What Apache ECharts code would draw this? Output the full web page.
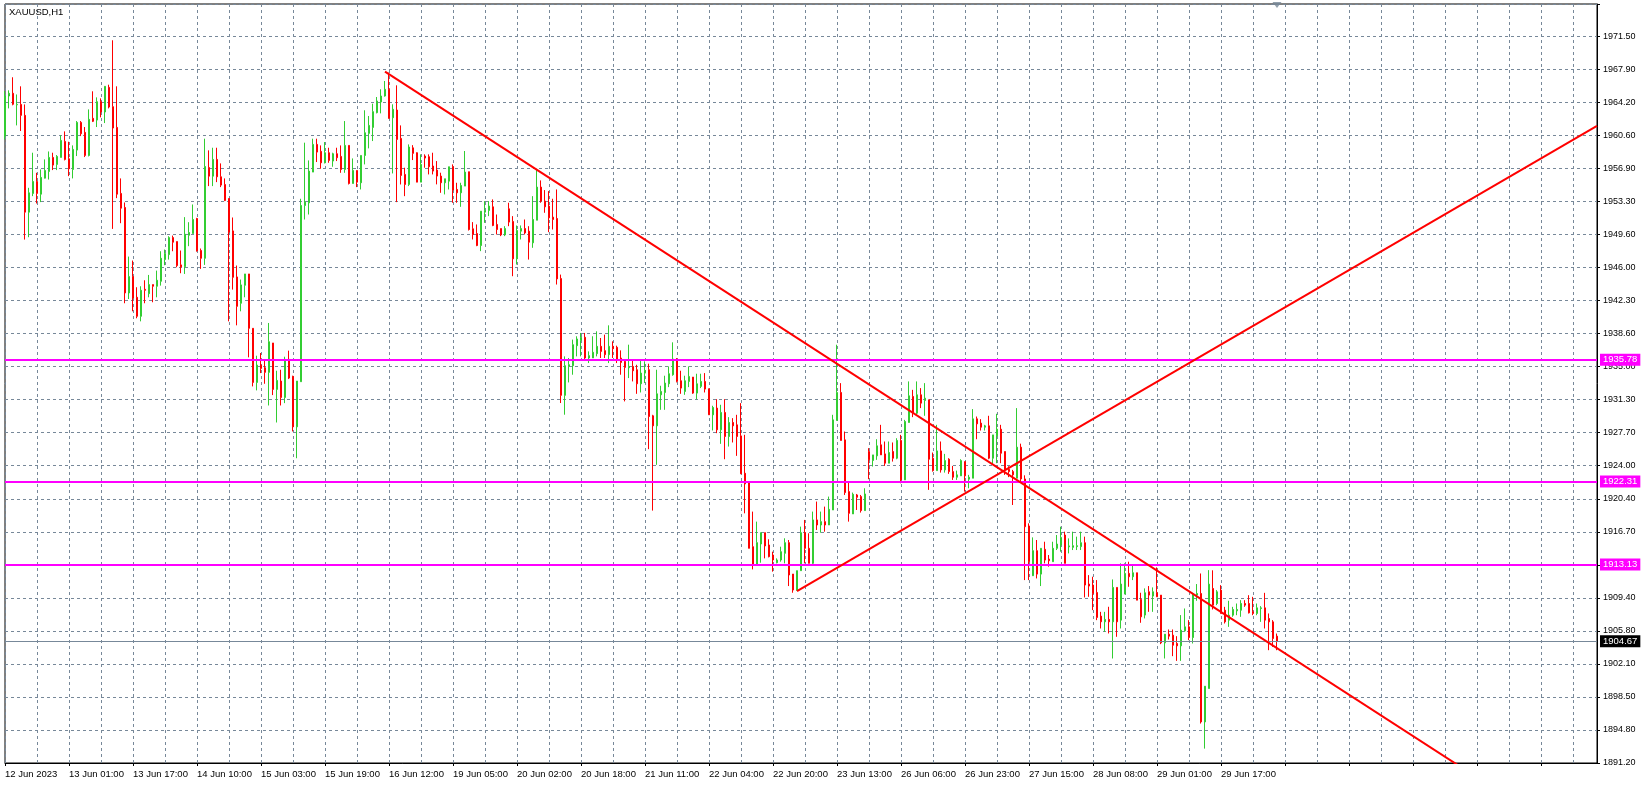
<!DOCTYPE html>
<html><head><meta charset="utf-8">
<script src="https://cdn.jsdelivr.net/npm/echarts@6/dist/echarts.min.js"></script>
<style>html,body{margin:0;padding:0;background:#fff;}#chart{width:1645px;height:788px;}</style>
</head><body><div id="chart"></div>
<script>
// ---- data (XAUUSD H1, one entry per bar, left to right) ----
const open = [
1960.50,1964.93,1965.23,1963.95,1964.00,1962.79,1952.09,1954.16,1955.48,1954.08,
1955.85,1956.59,1958.14,1957.37,1958.14,1959.91,1957.99,1956.81,1958.95,1962.01,
1960.91,1958.36,1962.46,1962.27,1964.30,1963.16,1965.89,1963.75,1961.46,1954.16,
1952.61,1943.16,1944.97,1942.68,1940.58,1943.56,1943.08,1944.08,1943.90,1944.45,
1946.85,1947.40,1949.28,1948.84,1946.26,1946.07,1949.54,1949.73,1951.39,1947.85,
1946.99,1957.03,1956.07,1957.92,1956.00,1955.15,1953.60,1950.02,1944.93,1942.02,
1944.01,1945.26,1939.25,1933.27,1935.19,1934.89,1934.38,1937.63,1932.50,1933.42,
1931.61,1935.82,1933.94,1928.36,1933.35,1952.83,1953.12,1956.52,1959.58,1958.81,
1957.55,1958.66,1957.74,1958.55,1958.25,1956.81,1959.47,1955.26,1956.70,1955.34,
1958.36,1960.80,1961.46,1963.09,1964.27,1964.93,1965.67,1962.53,1963.38,1960.24,
1956.26,1955.15,1959.20,1958.66,1955.41,1958.29,1958.22,1957.19,1956.74,1956.08,
1955.34,1955.52,1957.11,1954.60,1954.23,1954.97,1956.56,1950.25,1949.73,1948.40,
1952.09,1952.28,1952.68,1950.73,1950.28,1949.58,1952.46,1951.06,1946.93,1949.99,
1950.28,1949.99,1948.70,1951.20,1954.86,1953.31,1952.76,1951.54,1951.39,1944.75,
1931.84,1935.05,1935.12,1937.33,1937.92,1938.26,1935.97,1935.97,1936.45,1937.26,
1936.78,1936.34,1937.26,1937.15,1935.96,1935.59,1934.89,1935.04,1934.67,1933.12,
1934.30,1934.67,1929.58,1928.47,1931.90,1932.16,1933.12,1934.12,1935.85,1933.45,
1932.27,1933.38,1933.86,1932.09,1932.83,1933.38,1932.57,1929.69,1930.43,1928.03,
1929.95,1927.29,1928.84,1928.58,1927.36,1923.23,1922.31,1915.11,1913.19,1915.41,
1916.66,1915.30,1914.19,1913.34,1913.64,1914.38,1915.56,1912.09,1910.32,1912.46,
1916.66,1914.93,1913.27,1918.07,1917.51,1917.88,1917.51,1919.17,1929.06,1932.16,
1926.92,1921.20,1918.73,1920.83,1920.65,1919.10,1925.63,1924.64,1925.15,1926.37,
1925.37,1924.34,1925.63,1924.89,1926.85,1922.49,1928.84,1931.72,1929.87,1931.90,
1931.27,1931.35,1924.89,1923.52,1925.70,1923.60,1924.78,1923.41,1922.79,1922.94,
1924.52,1922.57,1922.68,1929.24,1928.77,1928.32,1928.47,1924.89,1927.36,1928.10,
1925.63,1923.67,1923.41,1922.68,1926.11,1922.60,1917.40,1911.90,1914.67,1912.08,
1914.82,1913.74,1913.45,1914.93,1915.30,1916.40,1915.10,1915.04,1915.12,1915.12,
1915.55,1910.98,1910.87,1910.05,1907.44,1906.81,1907.07,1906.81,1910.61,1906.99,
1909.87,1912.16,1911.79,1912.23,1909.28,1907.55,1910.13,1909.65,1910.02,1909.76,
1904.48,1905.44,1905.33,1904.41,1904.15,1905.81,1906.25,1905.07,1909.76,1909.94,
1895.74,1899.43,1910.49,1908.83,1910.31,1908.09,1906.99,1907.54,1908.02,1908.09,
1908.83,1908.83,1907.91,1907.73,1908.28,1908.35,1907.17,1906.80,1905.22
];
const high = [
1965.48,1965.56,1967.00,1965.10,1966.00,1964.00,1954.78,1958.66,1956.44,1956.81,
1957.92,1958.80,1958.66,1958.40,1960.58,1961.02,1959.87,1959.47,1962.16,1962.16,
1961.50,1963.45,1965.45,1964.78,1964.67,1966.00,1966.18,1971.09,1966.00,1955.82,
1953.16,1947.18,1946.74,1943.79,1943.90,1944.56,1945.15,1944.08,1945.63,1947.77,
1947.96,1949.43,1949.50,1948.84,1947.85,1951.54,1950.98,1952.94,1951.46,1948.07,
1960.21,1958.92,1959.21,1959.21,1957.48,1955.82,1953.60,1951.50,1946.19,1944.64,
1945.26,1945.26,1939.25,1936.22,1936.52,1935.71,1939.84,1937.63,1934.56,1934.67,
1936.11,1936.78,1934.01,1933.42,1953.57,1959.77,1957.81,1960.21,1960.21,1959.47,
1959.84,1959.21,1958.66,1959.21,1959.47,1962.16,1959.47,1958.03,1956.70,1958.36,
1963.35,1962.72,1964.08,1964.82,1965.67,1966.59,1967.51,1964.01,1966.11,1961.68,
1957.00,1959.58,1959.50,1958.70,1958.48,1958.48,1958.48,1958.66,1957.74,1956.45,
1955.78,1957.11,1957.37,1955.34,1955.34,1958.85,1956.56,1950.99,1950.73,1952.20,
1953.31,1953.31,1953.50,1951.83,1950.28,1950.54,1953.13,1951.65,1950.62,1950.62,
1951.28,1950.54,1953.86,1956.89,1955.60,1954.53,1954.42,1953.57,1954.60,1945.19,
1936.15,1935.97,1938.00,1938.37,1938.74,1938.74,1936.70,1938.37,1938.92,1938.18,
1938.55,1939.58,1937.81,1937.33,1936.81,1935.78,1937.44,1935.85,1935.22,1935.67,
1935.60,1935.34,1929.69,1934.67,1932.90,1934.01,1935.04,1937.70,1935.96,1934.56,
1934.01,1935.04,1933.86,1934.23,1934.23,1934.30,1932.57,1930.69,1931.42,1930.80,
1931.42,1929.43,1929.32,1929.69,1930.98,1927.48,1922.31,1918.99,1917.88,1916.66,
1916.66,1915.93,1914.56,1913.82,1915.11,1916.04,1915.85,1912.09,1912.46,1917.33,
1918.07,1916.59,1918.99,1920.10,1918.99,1919.54,1920.65,1929.69,1937.44,1933.19,
1927.84,1922.31,1921.09,1920.94,1920.83,1921.57,1926.00,1925.26,1926.99,1928.58,
1926.74,1926.74,1926.63,1927.10,1927.47,1929.13,1933.38,1932.45,1933.38,1932.64,
1933.19,1931.35,1925.52,1928.58,1926.74,1925.37,1924.89,1924.04,1923.52,1924.78,
1924.52,1923.05,1930.32,1929.50,1929.21,1928.58,1929.58,1927.47,1929.80,1928.58,
1925.63,1924.00,1923.60,1930.43,1926.50,1923.00,1917.69,1916.14,1915.85,1914.93,
1915.66,1914.19,1915.66,1916.40,1917.32,1916.77,1916.03,1916.77,1916.22,1916.77,
1916.22,1911.97,1911.79,1911.42,1907.91,1907.91,1908.47,1911.49,1910.61,1913.27,
1913.27,1913.45,1913.19,1912.23,1910.02,1910.50,1910.76,1910.61,1912.82,1909.76,
1905.44,1905.96,1905.96,1905.22,1907.55,1908.28,1906.99,1910.02,1910.98,1912.15,
1899.69,1912.52,1912.50,1910.31,1910.86,1908.46,1909.13,1908.46,1908.83,1909.20,
1909.20,1909.75,1909.57,1908.83,1908.54,1910.01,1907.73,1906.99,1905.51
];
const low = [
1960.13,1963.56,1963.90,1961.68,1961.06,1949.06,1949.32,1953.86,1953.05,1953.20,
1955.82,1955.70,1956.74,1956.74,1958.14,1957.81,1956.07,1955.82,1958.29,1960.50,
1958.18,1958.25,1962.05,1961.50,1962.57,1961.94,1963.56,1950.24,1953.64,1950.87,
1942.02,1942.49,1941.13,1940.36,1940.02,1942.02,1942.68,1942.13,1942.68,1943.97,
1946.22,1946.85,1947.77,1946.00,1945.34,1945.26,1948.33,1949.73,1947.73,1945.82,
1946.26,1954.97,1954.97,1955.41,1954.86,1953.31,1940.02,1943.53,1939.58,1941.13,
1942.68,1936.04,1932.83,1932.39,1934.30,1933.12,1930.72,1931.87,1928.84,1930.72,
1930.98,1933.64,1927.85,1924.89,1933.35,1951.28,1951.83,1956.52,1957.63,1956.89,
1957.48,1957.55,1957.11,1957.74,1956.44,1956.44,1955.15,1955.26,1954.86,1954.60,
1957.37,1959.14,1959.95,1963.01,1963.01,1964.86,1962.42,1956.37,1953.20,1955.15,
1953.86,1954.97,1957.85,1955.40,1955.41,1957.00,1956.26,1956.26,1955.16,1954.23,
1954.05,1954.60,1953.13,1953.13,1952.68,1954.97,1950.06,1949.07,1948.33,1947.78,
1950.91,1951.65,1950.54,1949.62,1949.44,1949.44,1950.54,1945.01,1946.30,1949.07,
1949.62,1946.85,1948.15,1951.20,1953.13,1952.02,1949.88,1950.17,1944.09,1930.99,
1929.70,1933.27,1934.12,1936.15,1936.15,1935.86,1935.41,1935.97,1936.15,1935.97,
1935.97,1935.41,1935.97,1935.41,1934.12,1931.17,1933.75,1933.38,1932.01,1932.16,
1933.20,1925.89,1919.10,1924.16,1930.24,1930.24,1932.75,1934.01,1933.27,1932.01,
1931.90,1932.75,1932.01,1931.42,1932.64,1932.16,1929.69,1927.96,1927.66,1926.48,
1924.78,1926.18,1926.63,1925.15,1923.16,1918.80,1914.93,1912.60,1913.08,1913.34,
1913.82,1913.93,1912.35,1913.27,1913.45,1913.27,1910.76,1910.02,1910.24,1912.46,
1913.27,1913.27,1913.08,1916.96,1916.66,1916.77,1917.51,1919.17,1929.06,1926.85,
1920.83,1917.88,1918.73,1919.17,1918.88,1919.10,1922.57,1923.97,1924.71,1925.26,
1924.04,1924.34,1924.52,1924.78,1922.12,1922.49,1928.84,1929.43,1929.58,1930.43,
1929.58,1921.39,1923.41,1923.52,1923.30,1923.30,1923.16,1922.49,1922.49,1922.94,
1921.20,1921.57,1922.68,1926.99,1927.95,1927.95,1924.78,1924.26,1924.34,1924.34,
1923.05,1922.80,1919.72,1922.68,1922.20,1911.42,1911.42,1911.90,1911.60,1910.76,
1913.27,1912.90,1913.45,1914.74,1914.56,1913.27,1914.37,1914.74,1914.74,1914.74,
1909.50,1909.57,1908.10,1906.99,1906.07,1905.70,1905.52,1902.75,1905.15,1906.07,
1909.87,1910.68,1911.42,1909.20,1906.70,1907.18,1907.91,1907.91,1909.57,1904.34,
1902.75,1904.85,1903.01,1902.49,1902.49,1905.70,1904.78,1904.41,1909.13,1895.56,
1892.79,1899.43,1908.17,1908.65,1907.73,1906.62,1906.25,1907.36,1907.54,1907.36,
1908.46,1907.73,1907.54,1907.54,1906.80,1906.07,1903.67,1904.04,1903.67
];
const close = [
1964.93,1965.23,1964.01,1964.00,1962.79,1952.09,1954.23,1955.48,1954.16,1955.93,
1956.70,1958.14,1957.29,1958.25,1960.02,1957.92,1956.89,1959.03,1962.01,1960.76,
1958.36,1962.35,1962.13,1964.30,1963.16,1966.00,1963.71,1961.39,1954.08,1952.53,
1943.16,1944.97,1942.60,1940.58,1943.45,1943.45,1944.08,1943.90,1944.56,1946.99,
1947.51,1949.28,1948.77,1946.18,1946.04,1949.65,1949.84,1951.28,1947.81,1946.99,
1957.14,1956.07,1957.92,1956.00,1955.08,1953.38,1949.88,1944.89,1941.68,1944.05,
1945.26,1939.25,1933.27,1935.19,1934.82,1934.38,1937.77,1932.50,1933.49,1931.61,
1935.82,1933.75,1928.36,1933.42,1952.83,1953.20,1956.63,1959.58,1958.73,1957.55,
1958.66,1957.81,1958.55,1958.11,1956.81,1959.47,1955.26,1956.70,1955.41,1958.36,
1960.87,1961.68,1963.20,1964.38,1964.93,1965.67,1962.46,1963.46,1960.13,1956.15,
1955.15,1959.29,1958.59,1955.41,1957.37,1958.07,1957.11,1956.63,1956.08,1955.34,
1955.78,1957.11,1954.53,1954.23,1955.04,1956.52,1950.17,1949.62,1948.40,1952.20,
1952.28,1952.76,1950.62,1950.17,1949.58,1950.28,1950.99,1946.93,1950.06,1950.28,
1949.80,1948.77,1951.28,1954.86,1953.31,1952.68,1951.46,1951.28,1944.71,1931.84,
1935.12,1935.23,1937.44,1938.07,1938.26,1935.97,1936.23,1936.60,1937.26,1936.70,
1936.34,1937.26,1937.00,1935.86,1935.48,1934.93,1935.04,1934.56,1933.12,1934.30,
1934.60,1929.50,1928.47,1932.01,1932.27,1933.20,1934.23,1935.85,1933.38,1932.64,
1933.45,1933.93,1932.09,1933.12,1933.38,1932.53,1929.69,1930.50,1928.03,1929.95,
1927.29,1928.84,1928.47,1927.29,1923.16,1922.05,1914.93,1913.19,1915.56,1916.66,
1915.19,1914.01,1913.64,1913.64,1914.56,1915.56,1911.98,1910.32,1912.46,1916.66,
1914.93,1913.27,1918.07,1917.51,1917.88,1917.51,1919.24,1929.13,1932.16,1926.85,
1921.09,1918.80,1920.90,1920.57,1919.10,1920.94,1924.71,1925.26,1926.26,1925.26,
1924.34,1925.52,1924.89,1926.85,1922.49,1928.95,1931.79,1929.95,1931.90,1930.98,
1931.53,1924.78,1923.52,1925.70,1923.60,1924.63,1923.41,1922.79,1923.05,1924.63,
1922.94,1922.79,1929.24,1928.69,1928.32,1928.47,1924.89,1927.47,1928.10,1925.44,
1923.67,1923.41,1923.05,1926.11,1922.60,1917.32,1913.45,1914.67,1912.08,1914.93,
1913.63,1913.56,1914.93,1915.40,1916.14,1913.27,1915.20,1915.22,1915.22,1915.55,
1910.87,1910.76,1909.94,1907.29,1906.81,1907.07,1906.81,1910.61,1906.81,1910.98,
1912.16,1911.79,1912.23,1909.20,1907.36,1910.02,1909.76,1910.13,1909.57,1904.48,
1905.44,1905.22,1904.22,1904.15,1905.89,1906.25,1905.07,1909.87,1909.94,1895.74,
1899.69,1910.97,1908.65,1910.12,1907.73,1906.80,1907.54,1908.17,1908.17,1908.83,
1908.65,1907.80,1907.73,1908.35,1908.35,1906.99,1906.80,1904.96,1904.67
];
const timeLabels = ['12 Jun 2023','13 Jun 01:00','13 Jun 17:00','14 Jun 10:00','15 Jun 03:00','15 Jun 19:00',
  '16 Jun 12:00','19 Jun 05:00','20 Jun 02:00','20 Jun 18:00','21 Jun 11:00','22 Jun 04:00','22 Jun 20:00',
  '23 Jun 13:00','26 Jun 06:00','26 Jun 23:00','27 Jun 15:00','28 Jun 08:00','29 Jun 01:00','29 Jun 17:00'];
const yTickLabels = ['1891.20','1894.80','1898.50','1902.10','1905.80','1909.40','1913.10','1916.70','1920.40',
  '1924.00','1927.70','1931.30','1935.00','1938.60','1942.30','1946.00','1949.60','1953.30','1956.90',
  '1960.60','1964.20','1967.90','1971.50'];
const levels = [1935.78, 1922.31, 1913.13];
const lastPrice = 1904.67;
const trendDown = [[95, 1967.63], [398, 1881.03]];
const trendUp = [[198, 1910.20], [398, 1961.64]];
const symbolName = 'XAUUSD,H1';

// ---- axis setup ----
const TOTAL_SLOTS = 399, LABEL_EVERY = 16, GRID_EVERY = 8;
const Y0 = 1891.2, YSTEP = 1891.2 / 518, YMAX = 1975.1;
const FONT = 'Liberation Sans, Arial, sans-serif';
const GRID_COLOR = '#778899';

const cats = [];
for (let i = 0; i < TOTAL_SLOTS; i++) cats.push(String(i));
const candleData = cats.map((c, i) => i < open.length ? [open[i], close[i], low[i], high[i]] : '-');

function yLabel(v) {
  const k = Math.round((v - Y0) / YSTEP);
  if (k >= 0 && k < yTickLabels.length && Math.abs(v - (Y0 + k * YSTEP)) < 0.05) return yTickLabels[k];
  return '';
}

const chart = echarts.init(document.getElementById('chart'), null, {renderer: 'canvas', width: 1645, height: 788});
const lvlLine = (v) => ({
  yAxis: v,
  lineStyle: {color: '#FF00FF', width: 2, type: 'solid'},
  label: {show: true, position: 'end', distance: 3, formatter: () => v.toFixed(2), color: '#fff',
    backgroundColor: '#FF00FF', padding: [1, 3, 0, 3], fontSize: 9.5, lineHeight: 11, fontFamily: FONT}
});
chart.setOption({
  animation: false,
  backgroundColor: '#fff',
  textStyle: {fontFamily: FONT},
  title: {text: symbolName, left: 9, top: 7, padding: 0,
    textStyle: {fontSize: 9.5, fontWeight: 'normal', color: '#000', fontFamily: FONT}},
  grid: {left: 5, right: 48, top: 4, bottom: 25, show: true, borderColor: '#000', borderWidth: 1, backgroundColor: '#fff'},
  xAxis: {
    type: 'category', data: cats, boundaryGap: false,
    axisLine: {show: true, onZero: false, lineStyle: {color: '#000', width: 1}},
    axisTick: {show: true, length: 3, interval: (i) => i % LABEL_EVERY === 0, lineStyle: {color: '#000'}},
    axisLabel: {show: true, interval: (i) => i % LABEL_EVERY === 0,
      formatter: (v, i) => (i % LABEL_EVERY === 0 && timeLabels[i / LABEL_EVERY]) || '',
      align: 'left', margin: 6, color: '#000', fontSize: 9.5, fontFamily: FONT},
    splitLine: {show: true, interval: (i) => i % GRID_EVERY === 0, lineStyle: {color: GRID_COLOR, type: [3, 3], width: 1}}
  },
  yAxis: {
    type: 'value', position: 'right', min: Y0, max: YMAX, interval: YSTEP, scale: true,
    axisLine: {show: true, lineStyle: {color: '#000', width: 1}},
    axisTick: {show: true, length: 3, lineStyle: {color: '#000'}},
    axisLabel: {color: '#000', fontSize: 9, margin: 6, formatter: yLabel, fontFamily: FONT},
    splitLine: {show: true, lineStyle: {color: GRID_COLOR, type: [3, 3], width: 1}}
  },
  series: [
    {
      type: 'candlestick', data: candleData, barWidth: 2,
      itemStyle: {color: '#32CD32', color0: '#FF0000', borderColor: '#32CD32', borderColor0: '#FF0000', borderWidth: 1},
      markLine: {
        symbol: 'none', silent: true, animation: false,
        data: [
          ...levels.map(lvlLine),
          {yAxis: lastPrice, lineStyle: {color: GRID_COLOR, width: 1, type: 'solid'},
            label: {show: true, position: 'end', distance: 3, formatter: () => lastPrice.toFixed(2), color: '#fff',
              backgroundColor: '#000', padding: [1, 3, 0, 3], fontSize: 9.5, lineHeight: 11, fontFamily: FONT}}
        ]
      }
    },
    {type: 'line', data: trendDown, symbol: 'none', silent: true, lineStyle: {color: '#FF0000', width: 2}, z: 5},
    {type: 'line', data: trendUp, symbol: 'none', silent: true, lineStyle: {color: '#FF0000', width: 2}, z: 5},
    {type: 'scatter', data: [[open.length - 1, YMAX]], symbol: 'triangle', symbolRotate: 180, symbolSize: [9, 6],
      symbolOffset: [0, 1], clip: false, silent: true, itemStyle: {color: GRID_COLOR}, z: 6}
  ]
});
</script></body></html>
